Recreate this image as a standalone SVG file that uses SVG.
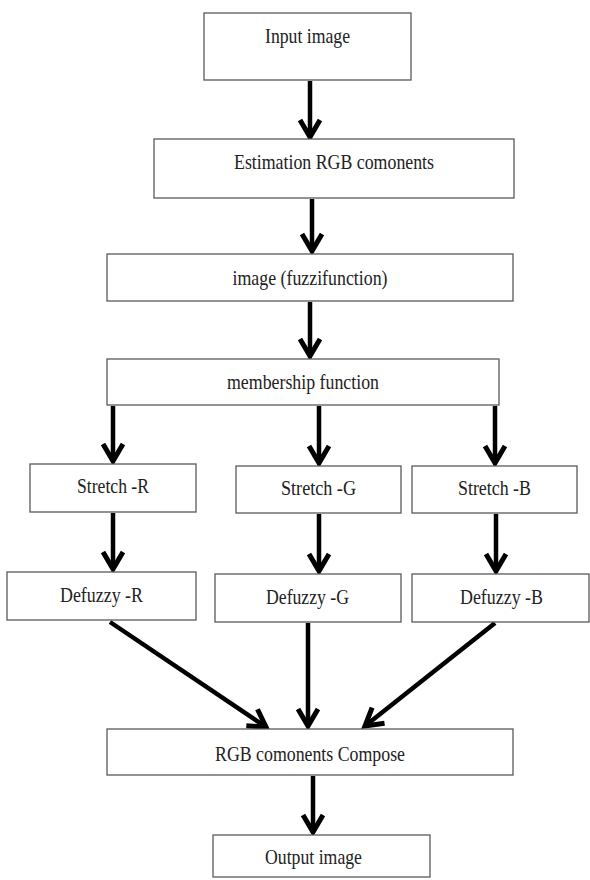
<svg xmlns="http://www.w3.org/2000/svg" width="590" height="880" viewBox="0 0 590 880">
<style>
.box{fill:#fff;stroke:#5a5a5a;stroke-width:1.3}
.lbl{font-family:"Liberation Serif","Times New Roman",serif;font-size:21px;fill:#222;text-anchor:middle}
.arr{stroke:#000;stroke-width:4.5;fill:none;marker-end:url(#ah)}
</style>
<defs>
<marker id="ah" markerUnits="userSpaceOnUse" markerWidth="26" markerHeight="26" viewBox="0 0 26 26" refX="20" refY="13" orient="auto">
<path d="M3,3 L20,13 L3,23" fill="none" stroke="#000" stroke-width="5" stroke-linejoin="miter"/>
</marker>
</defs>
<rect width="590" height="880" fill="#fff"/>
<g id="connectors">
<line class="arr" x1="310" y1="81" x2="310" y2="137"/>
<line class="arr" x1="312" y1="199" x2="312" y2="251"/>
<line class="arr" x1="310" y1="302" x2="310" y2="356"/>
<line class="arr" x1="113" y1="406" x2="113" y2="461"/>
<line class="arr" x1="319" y1="406" x2="319" y2="463"/>
<line class="arr" x1="495" y1="406" x2="495" y2="463"/>
<line class="arr" x1="113" y1="513" x2="113" y2="569"/>
<line class="arr" x1="319" y1="514" x2="319" y2="571"/>
<line class="arr" x1="496" y1="514" x2="496" y2="571"/>
<line class="arr" x1="110" y1="622" x2="266" y2="727"/>
<line class="arr" x1="308" y1="623" x2="308" y2="726"/>
<line class="arr" x1="495" y1="623" x2="365" y2="726"/>
<line class="arr" x1="313" y1="776" x2="313" y2="832"/>
</g>
<g id="n_input"><rect class="box" x="204" y="13" width="207" height="67"/><text class="lbl" x="307.5" y="43" textLength="85" lengthAdjust="spacingAndGlyphs">Input image</text></g>
<g id="n_estimation"><rect class="box" x="154" y="139" width="360" height="59"/><text class="lbl" x="334" y="169" textLength="200" lengthAdjust="spacingAndGlyphs">Estimation RGB comonents</text></g>
<g id="n_fuzzi"><rect class="box" x="107" y="254" width="406" height="47"/><text class="lbl" x="310" y="285" textLength="155" lengthAdjust="spacingAndGlyphs">image (fuzzifunction)</text></g>
<g id="n_membership"><rect class="box" x="107" y="359" width="392" height="46"/><text class="lbl" x="303" y="389" textLength="152" lengthAdjust="spacingAndGlyphs">membership function</text></g>
<g id="n_stretch_r"><rect class="box" x="30" y="464" width="166" height="48"/><text class="lbl" x="113" y="493" textLength="72" lengthAdjust="spacingAndGlyphs">Stretch -R</text></g>
<g id="n_stretch_g"><rect class="box" x="236" y="466" width="165" height="47"/><text class="lbl" x="318.5" y="495" textLength="75" lengthAdjust="spacingAndGlyphs">Stretch -G</text></g>
<g id="n_stretch_b"><rect class="box" x="412" y="466" width="165" height="47"/><text class="lbl" x="494.5" y="495" textLength="73" lengthAdjust="spacingAndGlyphs">Stretch -B</text></g>
<g id="n_defuzzy_r"><rect class="box" x="7" y="572" width="189" height="48"/><text class="lbl" x="101.5" y="602" textLength="83" lengthAdjust="spacingAndGlyphs">Defuzzy -R</text></g>
<g id="n_defuzzy_g"><rect class="box" x="215" y="574" width="186" height="48"/><text class="lbl" x="307.5" y="604" textLength="83" lengthAdjust="spacingAndGlyphs">Defuzzy -G</text></g>
<g id="n_defuzzy_b"><rect class="box" x="412" y="574" width="177" height="48"/><text class="lbl" x="501.5" y="604" textLength="83" lengthAdjust="spacingAndGlyphs">Defuzzy -B</text></g>
<g id="n_compose"><rect class="box" x="107" y="729" width="406" height="46"/><text class="lbl" x="310" y="761" textLength="190" lengthAdjust="spacingAndGlyphs">RGB comonents Compose</text></g>
<g id="n_output"><rect class="box" x="213" y="835" width="217" height="42"/><text class="lbl" x="313.5" y="864" textLength="97" lengthAdjust="spacingAndGlyphs">Output image</text></g>
</svg>
